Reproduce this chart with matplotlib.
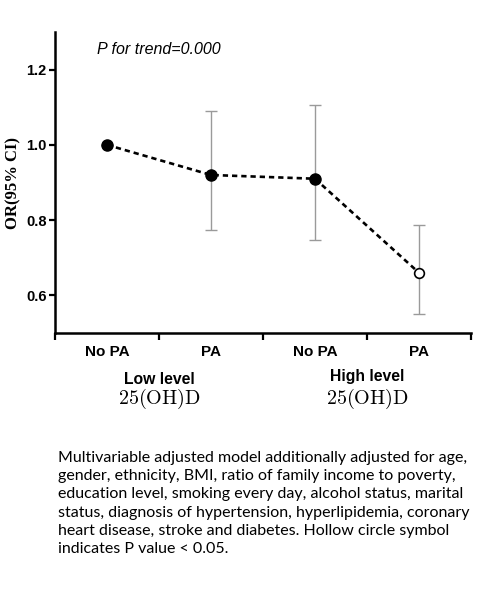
import matplotlib
matplotlib.use("Agg")
import matplotlib.pyplot as plt
import matplotlib.transforms as mtransforms
import numpy as np

pa_labels = ["No PA", "PA", "No PA", "PA"]
level_labels = ["Low level", "High level"]
or_values = [1.00, 0.92, 0.91, 0.66]
ci_lower = [1.00, 0.775, 0.748, 0.551]
ci_upper = [1.00, 1.09, 1.107, 0.786]
significant = [False, False, False, True]
caption = ("Multivariable adjusted model additionally adjusted for age,\n"
           "gender, ethnicity, BMI, ratio of family income to poverty,\n"
           "education level, smoking every day, alcohol status, marital\n"
           "status, diagnosis of hypertension, hyperlipidemia, coronary\n"
           "heart disease, stroke and diabetes. Hollow circle symbol\n"
           "indicates P value < 0.05.")

plt.rcParams['mathtext.fontset'] = 'cm'

fig = plt.figure(figsize=(4.9, 6.02), dpi=100)
ax = fig.add_axes([55/490, 1-333/602, (471-55)/490, (333-32)/602])

x = np.arange(len(or_values)) + 0.5
yerr = [np.array(or_values) - np.array(ci_lower), np.array(ci_upper) - np.array(or_values)]
ax.errorbar(x, or_values, yerr=yerr, fmt='none', ecolor='#9a9a9a', elinewidth=1.0,
            capsize=4.5, capthick=1.0, zorder=1)
ax.plot(x, or_values, linestyle=(0, (2.0, 1.5)), color='black', linewidth=1.9, zorder=2)
for xi, yi, s in zip(x, or_values, significant):
    if s:
        ax.plot(xi, yi, 'o', markersize=7, markerfacecolor='white', markeredgecolor='black',
                markeredgewidth=1.2, zorder=3)
    else:
        ax.plot(xi, yi, 'o', markersize=8, color='black', zorder=3)

ax.set_xlim(0, 4)
ax.set_ylim(0.5, 1.3)
ax.set_yticks([0.6, 0.8, 1.0, 1.2])
ax.set_yticklabels(["0.6", "0.8", "1.0", "1.2"], fontfamily='Liberation Sans',
                   fontweight='bold', fontsize=10.5)
ax.set_xticks([0, 1, 2, 3, 4])
ax.set_xticklabels([])
ax.set_xticks(x, minor=True)
ax.set_xticklabels(pa_labels, minor=True, fontfamily='Liberation Sans', fontweight='bold', fontsize=11)
ax.tick_params(axis='x', which='minor', length=0, pad=9)
ax.tick_params(axis='x', which='major', length=5, width=1.6, direction='out')
ax.tick_params(axis='y', which='major', length=4, width=1.6, direction='out', pad=2)

for sp in ['top', 'right']:
    ax.spines[sp].set_visible(False)
for sp in ['left', 'bottom']:
    ax.spines[sp].set_linewidth(1.8)

fig.text(13/490, 1-183/602, "OR(95% CI)", fontfamily='Liberation Serif', fontweight='bold',
         fontsize=12, rotation=90, ha='center', va='center')

fig.text(97/490, 1-49/602, "P for trend=0.000", fontstyle='italic',
         fontfamily='Liberation Sans', fontsize=11.5, va='center', ha='left')

blend = mtransforms.blended_transform_factory(ax.transData, fig.transFigure)
for gi, lab in enumerate(level_labels):
    xc = [1.0, 3.0][gi]
    yl = [380, 377][gi]
    ax.text(xc, 1-yl/602, lab, transform=blend,
            ha='center', va='center', fontfamily='Liberation Sans', fontweight='bold', fontsize=11.3)
    ax.text(xc, 1-399/602, r"$\mathrm{25(OH)D}$", transform=blend,
            ha='center', va='center', fontsize=14.5)

fig.text(58/490, 1-451/602, caption, fontfamily='Lato', fontsize=11.5, ha='left', va='top',
         linespacing=1.38)

fig.savefig("out.png", dpi=100)
